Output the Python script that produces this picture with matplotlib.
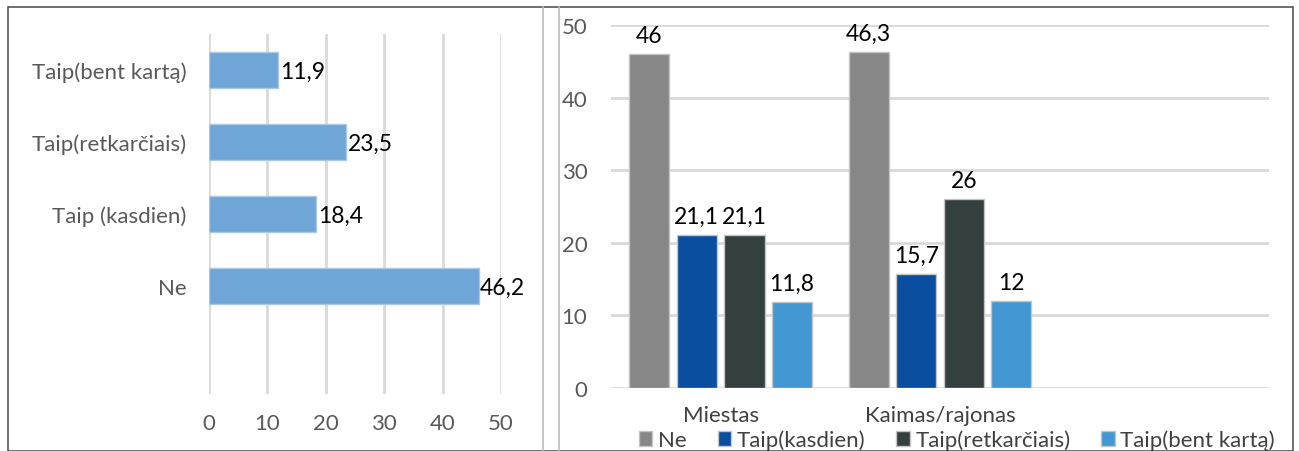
import numpy as np
import matplotlib
matplotlib.use('Agg')
import matplotlib.pyplot as plt
from matplotlib.patches import Rectangle

plt.rcParams['font.family'] = ['Lato', 'DejaVu Sans']

# left chart: answers overall
left_labels = ['Ne', 'Taip (kasdien)', 'Taip(retkarčiais)', 'Taip(bent kartą)']
left_values = [46.2, 18.4, 23.5, 11.9]
left_ticks = [0, 10, 20, 30, 40, 50]

# right chart: answers by place of residence
places = ['Miestas', 'Kaimas/rajonas']
series_names = ['Ne', 'Taip(kasdien)', 'Taip(retkarčiais)', 'Taip(bent kartą)']
ne_vals = [46, 46.3]
kasdien_vals = [21.1, 15.7]
retkarciais_vals = [21.1, 26]
bent_karta_vals = [11.8, 12]
right_ticks = [0, 10, 20, 30, 40, 50]

W, H = 1299, 452
fig = plt.figure(figsize=(W / 100, H / 100), dpi=100)

def px_axes(x0, y0, x1, y1):
    # pixel box (top-left origin) -> figure axes
    return fig.add_axes([x0 / W, 1 - y1 / H, (x1 - x0) / W, (y1 - y0) / H])

def fmt(v):
    return ('%g' % v).replace('.', ',')

grey_txt = '#595959'
grid_col = '#d9d9d9'

# ---- left horizontal bar chart ----
axl = px_axes(209, 35, 501, 395)
pos = np.arange(1, len(left_values) + 1)
axl.barh(pos, left_values, height=0.5, color='#6fa5d7', edgecolor='#a9c8e8', linewidth=1, zorder=3)
axl.set_xlim(0, 50)
axl.set_ylim(-0.5, len(left_values) + 0.5)
axl.set_xticks(left_ticks)
axl.set_xticklabels([str(t) for t in left_ticks])
axl.set_yticks(pos)
axl.set_yticklabels(left_labels)
axl.grid(axis='x', color=grid_col, linewidth=2, zorder=0)
axl.tick_params(axis='both', length=0, colors=grey_txt, labelsize=16)
axl.tick_params(axis='x', pad=14)
axl.tick_params(axis='y', pad=16)
for s in axl.spines.values():
    s.set_visible(False)
for p, v in zip(pos, left_values):
    axl.annotate(fmt(v), (v, p), xytext=(1, -1), textcoords='offset points',
                 ha='left', va='center', fontsize=16.5, color='black', zorder=4)

# ---- right grouped column chart ----
axr = px_axes(611, 26, 1269, 389)
groups = [ne_vals, kasdien_vals, retkarciais_vals, bent_karta_vals]
colors = ['#878787', '#0a4ea0', '#343f3f', '#4398d3']
x = np.arange(len(places))
stride = 0.217
width = 0.183
for i, (vals, c, name) in enumerate(zip(groups, colors, series_names)):
    xs = x + (i - 1.5) * stride
    axr.bar(xs, vals, width=width, color=c, edgecolor='#c4c4c4', linewidth=1, label=name, zorder=3)
    for xi, v in zip(xs, vals):
        axr.annotate(fmt(v), (xi, v), xytext=(0, 6), textcoords='offset points',
                     ha='center', va='bottom', fontsize=16.5, color='black', zorder=4)
axr.set_xlim(-0.5, 2.5)
axr.set_ylim(0, 50)
axr.set_yticks(right_ticks)
axr.set_yticklabels([str(t) for t in right_ticks])
axr.set_xticks(x)
axr.set_xticklabels(places)
axr.grid(axis='y', color=grid_col, linewidth=2, zorder=0)
axr.tick_params(axis='both', length=0, colors=grey_txt, labelsize=16)
axr.tick_params(axis='x', pad=12, labelcolor='#404040')
axr.tick_params(axis='y', pad=17)
for s in axr.spines.values():
    s.set_visible(False)

handles, labels = axr.get_legend_handles_labels()
fig.legend(handles, labels, loc='center', ncol=4, frameon=False,
           bbox_to_anchor=((628 + 1286) / 2 / W, 1 - 441 / H),
           fontsize=16, handlelength=0.6, handleheight=0.6, handletextpad=0.25,
           columnspacing=1.4, labelcolor='#404040', borderpad=0.1)

# frame lines around the two panels
fig.patches.append(Rectangle((8 / W, 0), (1293 - 8) / W, 1 - 8 / H, transform=fig.transFigure,
                             fill=False, edgecolor='#555555', linewidth=1.2))
for xl in (543, 559):
    fig.add_artist(plt.Line2D([xl / W, xl / W], [0, 1 - 8 / H], transform=fig.transFigure,
                              color='#bbbbbb', linewidth=1.2))

fig.savefig('out.png', dpi=100)
